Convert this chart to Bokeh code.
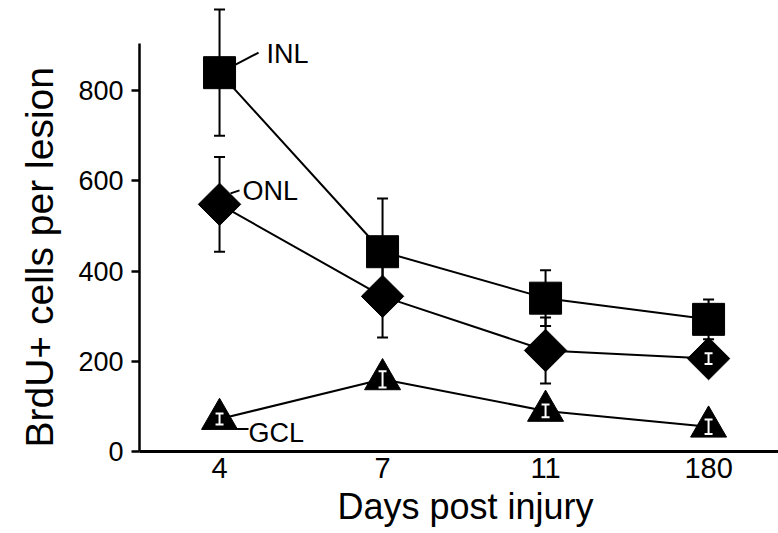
import numpy as np
from bokeh.plotting import figure
from bokeh.models import Range1d, FixedTicker, Whisker, TeeHead, ColumnDataSource, Label, Title
from bokeh.embed import file_html
from bokeh.resources import INLINE

# ---- data ----
days = ["4", "7", "11", "180"]
inl = [840, 443, 340, 293]
inl_err = [140, 118, 62, 44]
onl = [548, 344, 224, 206]
onl_err = [105, 91, 73, 12]
gcl = [72, 160, 90, 55]
gcl_err = [12, 18, 14, 16]
y_ticks = [0, 200, 400, 600, 800]
series_names = ["INL", "ONL", "GCL"]
y_title = "BrdU+ cells per lesion"
x_title = "Days post injury"

xs = list(range(len(days)))

FONT = "Liberation Sans"
W, H = 778, 533
BL, BB = 139, 82
X0, X1 = -0.491, 3.429
Y0, Y1 = 0, 1000

p = figure(width=W, height=H, x_range=Range1d(X0, X1), y_range=Range1d(Y0, Y1),
           output_backend="svg", toolbar_location=None,
           min_border_left=BL, min_border_right=0, min_border_top=0, min_border_bottom=BB)
p.outline_line_color = None
p.grid.visible = False

# pixel -> data conversion factors (for label leader lines)
px_x = (X1 - X0) / (W - BL)
px_y = (Y1 - Y0) / (H - BB)


def whiskers(x, y, e, color, head, lw, level):
    src = ColumnDataSource(dict(x=x, upper=[a + b for a, b in zip(y, e)],
                                lower=[a - b for a, b in zip(y, e)]))
    w = Whisker(base="x", upper="upper", lower="lower", source=src,
                line_color=color, line_width=lw, level=level,
                upper_head=TeeHead(size=head, line_color=color, line_width=lw),
                lower_head=TeeHead(size=head, line_color=color, line_width=lw))
    p.add_layout(w)


# black error bars under markers
whiskers(xs, inl, inl_err, "black", 11, 2, "underlay")
whiskers(xs, onl, onl_err, "black", 11, 2, "underlay")

# lines
for ys in (inl, onl, gcl):
    p.line(xs, ys, line_color="black", line_width=2)

# markers
p.scatter(xs, inl, marker="square", size=32, color="black")
p.scatter(xs, onl, marker="square", size=30, angle=np.pi / 4, color="black")
p.scatter(xs, gcl, marker="triangle", size=36, color="black")

# white error bars inside markers
whiskers(xs, gcl, gcl_err, "white", 8, 2, "annotation")
whiskers([xs[3]], [onl[3]], [onl_err[3]], "white", 8, 2, "annotation")

# series labels with leader lines
label_specs = [
    # (name, y value, text offset px, leader start px, leader end px)
    (series_names[0], inl[0], (47, 19), (16, 8), (39, 20)),
    (series_names[1], onl[0], (23, 13), (11, 11), (20, 14)),
    (series_names[2], gcl[0], (29, -14), (16, -10), (29, -10)),
]
for name, yv, toff, l0, l1 in label_specs:
    p.add_layout(Label(x=xs[0], y=yv, x_offset=toff[0], y_offset=toff[1], text=name,
                       text_font=FONT, text_font_size="27px", text_baseline="middle",
                       text_color="black"))
    p.segment(x0=[xs[0] + l0[0] * px_x], y0=[yv + l0[1] * px_y],
              x1=[xs[0] + l1[0] * px_x], y1=[yv + l1[1] * px_y],
              line_color="black", line_width=2)

# axes
xa = p.xaxis[0]
xa.ticker = FixedTicker(ticks=xs)
xa.major_label_overrides = {i: d for i, d in zip(xs, days)}
xa.axis_line_width = 3
xa.axis_line_color = "black"
xa.major_tick_line_color = None
xa.minor_tick_line_color = None
xa.major_tick_out = 0
xa.major_tick_in = 0
xa.major_label_standoff = 6
xa.major_label_text_font = FONT
xa.major_label_text_font_size = "29px"
xa.major_label_text_color = "black"

ya = p.yaxis[0]
ya.ticker = FixedTicker(ticks=y_ticks)
ya.bounds = (0, 905)
ya.axis_line_width = 2.5
ya.axis_line_color = "black"
ya.major_tick_line_width = 2.5
ya.major_tick_line_color = "black"
ya.major_tick_out = 8
ya.major_tick_in = 0
ya.minor_tick_line_color = None
ya.major_label_standoff = 8
ya.major_label_text_font = FONT
ya.major_label_text_font_size = "27px"
ya.major_label_text_color = "black"

# axis titles as side-panel titles, positioned like the reference
p.add_layout(Title(text=y_title, align="left", offset=4, standoff=25, vertical_align="top",
                   text_font=FONT, text_font_size="39px", text_font_style="normal",
                   text_color="black"), "left")
p.add_layout(Title(text=x_title, align="left", offset=198, standoff=7,
                   text_font=FONT, text_font_size="36px", text_font_style="normal",
                   text_color="black"), "below")

with open("out.html", "w") as f:
    f.write(file_html(p, INLINE))
